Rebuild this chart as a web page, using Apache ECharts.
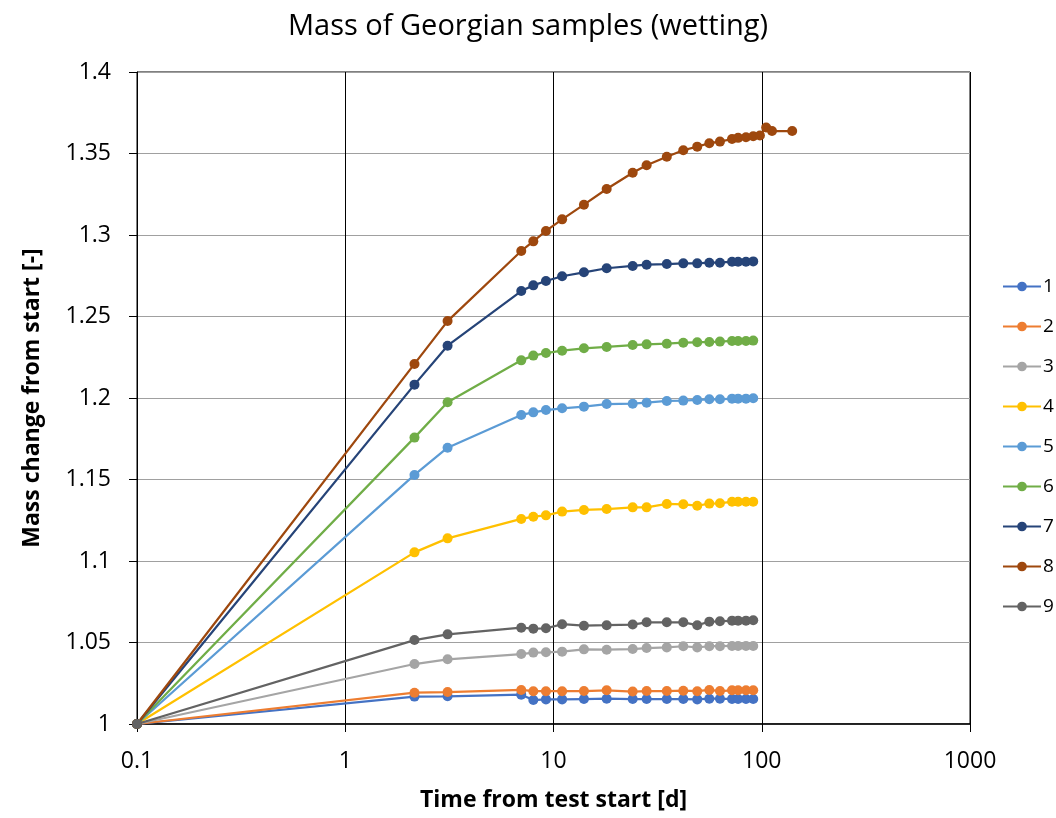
<!DOCTYPE html>
<html>
<head>
<meta charset="utf-8">
<script src="https://cdn.jsdelivr.net/npm/echarts@6/dist/echarts.min.js"></script>
<style>
html, body { margin: 0; padding: 0; background: #fff; }
#chart { width: 1056px; height: 818px; }
</style>
</head>
<body>
<div id="chart"></div>
<script>
// time from test start [d]
var days = [0.1, 2.15, 3.1, 7, 8, 9.2, 11, 14, 18, 24, 28, 35, 42, 49, 56, 63, 72, 77, 84, 91];
var days8 = days.concat([98, 105, 112, 140]);

var s1 = [1, 1.0168, 1.017, 1.018, 1.0147, 1.0151, 1.0151, 1.0153, 1.0155, 1.0153, 1.0153, 1.0153, 1.0153, 1.0151, 1.0155, 1.0155, 1.0153, 1.0153, 1.0153, 1.0153];
var s2 = [1, 1.0192, 1.0196, 1.0209, 1.0201, 1.0201, 1.0201, 1.0202, 1.0207, 1.0199, 1.0202, 1.0202, 1.0204, 1.0201, 1.0209, 1.0202, 1.0207, 1.0207, 1.0207, 1.0207];
var s3 = [1, 1.0368, 1.0397, 1.0429, 1.0438, 1.044, 1.0444, 1.0458, 1.0456, 1.046, 1.0466, 1.047, 1.0477, 1.047, 1.0477, 1.0477, 1.0479, 1.0479, 1.0479, 1.0479];
var s4 = [1, 1.1053, 1.1139, 1.1258, 1.1272, 1.128, 1.1303, 1.1313, 1.1319, 1.1329, 1.1329, 1.135, 1.1348, 1.1339, 1.1352, 1.1354, 1.1364, 1.1364, 1.1364, 1.1364];
var s5 = [1, 1.1528, 1.1695, 1.1896, 1.1912, 1.1926, 1.1937, 1.1947, 1.1963, 1.1965, 1.1971, 1.1982, 1.1984, 1.1988, 1.1992, 1.1992, 1.1996, 1.1996, 1.1996, 1.1998];
var s6 = [1, 1.1757, 1.1974, 1.2231, 1.226, 1.2276, 1.229, 1.2305, 1.2313, 1.2325, 1.2329, 1.2333, 1.2339, 1.2342, 1.2344, 1.2346, 1.235, 1.235, 1.235, 1.2352];
var s7 = [1, 1.2082, 1.2321, 1.2656, 1.2691, 1.2718, 1.2747, 1.2771, 1.2796, 1.281, 1.2818, 1.2822, 1.2826, 1.2826, 1.283, 1.283, 1.2836, 1.2836, 1.2836, 1.2838];
var s8 = [1, 1.2209, 1.2472, 1.2902, 1.2961, 1.3025, 1.3096, 1.3186, 1.3282, 1.3382, 1.3428, 1.348, 1.352, 1.3542, 1.3563, 1.3573, 1.3589, 1.3596, 1.36, 1.3606, 1.361, 1.3659, 1.3638, 1.3638];
var s9 = [1, 1.0515, 1.055, 1.0591, 1.0585, 1.0587, 1.0612, 1.0603, 1.0606, 1.061, 1.0624, 1.0624, 1.0624, 1.0606, 1.0628, 1.063, 1.0634, 1.0634, 1.0634, 1.0636];

var names = ['1', '2', '3', '4', '5', '6', '7', '8', '9'];
var values = [s1, s2, s3, s4, s5, s6, s7, s8, s9];
var colors = ['#4472C4', '#ED7D31', '#A5A5A5', '#FFC000', '#5B9BD5', '#70AD47', '#264478', '#9E480E', '#636363'];

function pairs(xs, ys) {
    var out = [];
    for (var i = 0; i < ys.length; i++) out.push([xs[i], ys[i]]);
    return out;
}

var series = [];
for (var k = 0; k < names.length; k++) {
    series.push({
        name: names[k],
        type: 'line',
        data: pairs(k == 7 ? days8 : days, values[k]),
        symbol: 'circle',
        symbolSize: 10,
        lineStyle: { width: 2.25 },
        emphasis: { disabled: true }
    });
}

var font = 'Open Sans, Liberation Sans, sans-serif';
var chart = echarts.init(document.getElementById('chart'));
chart.setOption({
    animation: false,
    color: colors,
    title: {
        text: 'Mass of Georgian samples (wetting)',
        left: 'center',
        top: 7,
        textStyle: { fontFamily: font, fontSize: 29, fontWeight: 'normal', color: '#000' }
    },
    legend: {
        orient: 'vertical',
        left: 997,
        top: 272,
        padding: 5,
        itemWidth: 38,
        itemHeight: 12,
        itemGap: 21,
        textStyle: { fontFamily: font, fontSize: 19, color: '#000', padding: [0, 0, 0, -3] },
        data: names
    },
    grid: {
        left: 137, right: 86, top: 72, bottom: 94,
        show: true, borderColor: '#000', borderWidth: 1
    },
    xAxis: {
        type: 'log',
        logBase: 10,
        min: 0.1,
        max: 1000,
        name: 'Time from test start [d]',
        nameLocation: 'middle',
        nameGap: 65,
        nameTextStyle: { fontFamily: font, fontSize: 23, fontWeight: 'bold', color: '#000' },
        axisLine: { lineStyle: { color: '#000', width: 1.5 } },
        axisTick: { show: true, length: 8, lineStyle: { color: '#000' } },
        splitLine: { show: true, lineStyle: { color: '#000', width: 1 } },
        axisLabel: {
            fontFamily: font, fontSize: 23, color: '#000', margin: 26,
            formatter: function (v) { return String(+v.toPrecision(3)); }
        }
    },
    yAxis: {
        type: 'value',
        min: 1,
        max: 1.4,
        interval: 0.05,
        name: 'Mass change from start [-]',
        nameLocation: 'middle',
        nameGap: 93,
        nameTextStyle: { fontFamily: font, fontSize: 23, fontWeight: 'bold', color: '#000' },
        axisLine: { show: true, lineStyle: { color: '#000', width: 1 } },
        axisTick: { show: true, length: 8, lineStyle: { color: '#000' } },
        splitLine: { show: true, lineStyle: { color: '#A0A0A0', width: 1 } },
        axisLabel: {
            fontFamily: font, fontSize: 23, color: '#000', margin: 26,
            formatter: function (v) { return String(+v.toFixed(2)); }
        }
    },
    series: series
});
</script>
</body>
</html>
